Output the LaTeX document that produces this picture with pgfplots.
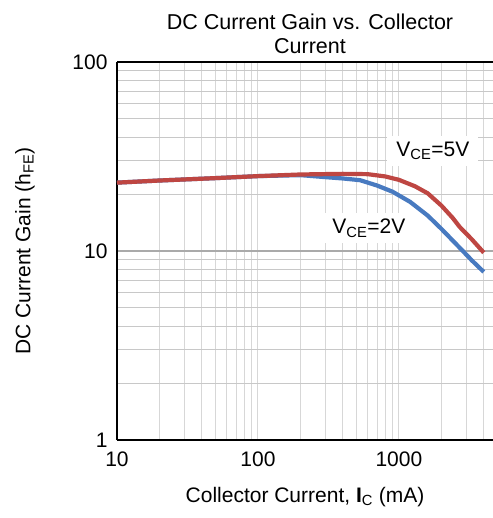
\documentclass[border=0pt]{standalone}
\usepackage{pgfplots}
\pgfplotsset{compat=1.18}
\usepackage{fontspec}
\setmainfont{Liberation Sans}
\definecolor{gainred}{RGB}{190,70,66}
\definecolor{gainblue}{RGB}{72,122,192}
\definecolor{gridv}{RGB}{215,215,215}
\definecolor{gridh}{RGB}{200,200,200}
\definecolor{gridmaj}{RGB}{170,170,170}

\begin{document}
\begin{tikzpicture}
\begin{axis}[
  name=ax,
  scale only axis, width=376pt, height=378pt,
  xmode=log, ymode=log,
  xmin=10, xmax=4650, ymin=1, ymax=100,
  axis x line=box, axis y line=left,
  axis line style={black, line width=1.2pt, -},
  xtick={10,100,1000}, xticklabels={10,100,1000},
  ytick={1,10,100}, yticklabels={1,10,100},
  minor xtick={20,30,40,50,60,70,80,90,200,300,400,500,600,700,800,900,2000,3000,4000},
  minor ytick={2,3,4,5,6,7,8,9,20,30,40,50,60,70,80,90},
  major tick length=0pt, minor tick length=0pt,
  grid=both,
  major x grid style={gridv, line width=1pt},
  minor x grid style={gridv, line width=1pt},
  major y grid style={gridmaj, line width=1.3pt},
  minor y grid style={gridh, line width=1pt},
  tick label style={font=\fontsize{21}{24}\selectfont},
  xticklabel style={yshift=-8pt},
  yticklabel style={xshift=-6pt},
  clip=false,
]
\addplot[gainblue, line width=4.2pt, line join=round] coordinates {
  (10,23.0) (20,23.6) (50,24.3) (100,24.9) (200,25.2) (300,24.6)
  (400,24.2) (530,23.7) (700,22.2) (900,20.6) (1200,18.2) (1600,15.4)
  (2000,13.1) (2700,10.4) (3300,8.9) (4000,7.75)
};
\addplot[gainred, line width=4.2pt, line join=round] coordinates {
  (10,23.0) (20,23.6) (50,24.3) (100,24.9) (200,25.4) (400,25.6)
  (600,25.5) (800,24.8) (1000,23.8) (1300,22.0) (1600,20.2) (2000,17.4)
  (2400,15.0) (2700,13.4) (3300,11.5) (4000,9.8)
};
\node[fill=white, inner xsep=9pt, inner ysep=6pt, font=\fontsize{21}{24}\selectfont]
  at (axis cs:1742,33.8) {V\textsubscript{CE}=5V};
\node[fill=white, inner xsep=9pt, inner ysep=6pt, font=\fontsize{21}{24}\selectfont]
  at (axis cs:612,13.2) {V\textsubscript{CE}=2V};
\end{axis}
\node[align=center, font=\fontsize{21.5}{24}\selectfont, anchor=south]
  at ([xshift=5pt,yshift=5pt]ax.north) {DC Current Gain vs. Collector\\Current};
\node[font=\fontsize{21}{24}\selectfont, anchor=center]
  at ([yshift=-57pt]ax.south) {Collector Current, \textbf{I}\textsubscript{C} (mA)};
\node[font=\fontsize{21}{24}\selectfont, rotate=90, anchor=center]
  at ([xshift=-92pt]ax.west) {DC Current Gain (h\textsubscript{FE})};
\pgfresetboundingbox
\useasboundingbox ([xshift=-117pt,yshift=-78pt]ax.south west) rectangle ([yshift=62pt]ax.north east);
\end{tikzpicture}
\end{document}
